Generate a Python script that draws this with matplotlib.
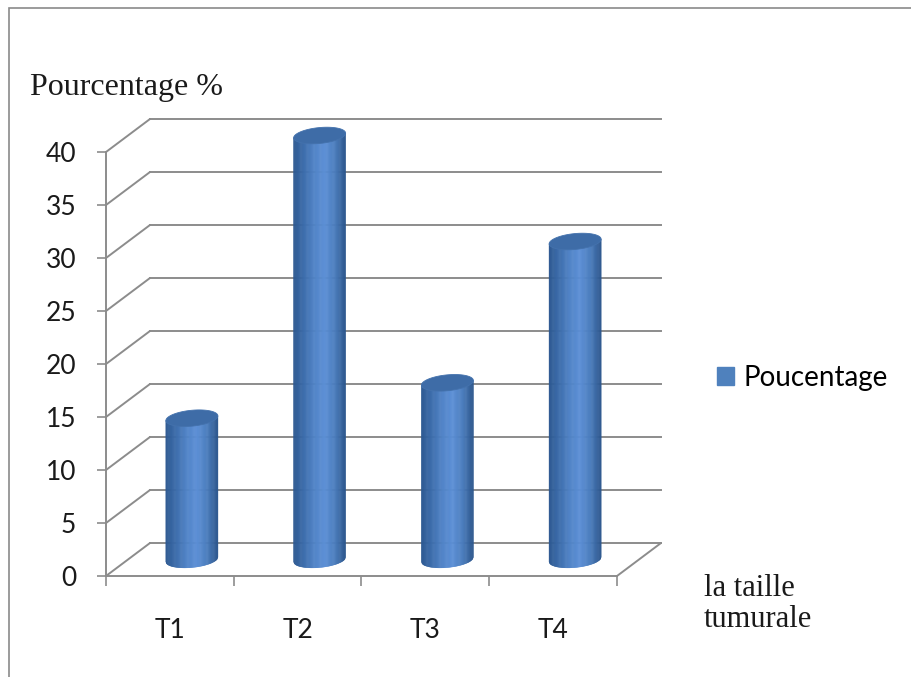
import numpy as np
import matplotlib
matplotlib.use('Agg')
import matplotlib.pyplot as plt
from matplotlib.transforms import offset_copy
from matplotlib.patches import ConnectionPatch, Polygon, Patch, Rectangle
from matplotlib.collections import PolyCollection
from matplotlib.colors import LinearSegmentedColormap

# donnees
categories = ['T1', 'T2', 'T3', 'T4']
pourcentages = [13.33, 40.0, 16.67, 30.0]
yticks = [0, 5, 10, 15, 20, 25, 30, 35, 40]
serie = 'Poucentage'

grid_c = '#8c8c8c'
sans = 'Lato'
serif = 'Liberation Serif'

fig = plt.figure(figsize=(9.12, 6.77), dpi=100)
ax = fig.add_axes([106 / 912, 101 / 677, 511 / 912, 424 / 677])
ax.set_facecolor('none')

# decalages de profondeur (pseudo 3D)
back = offset_copy(ax.transData, fig=fig, x=44, y=33, units='dots')
mid = offset_copy(ax.transData, fig=fig, x=22, y=16.5, units='dots')

n = len(categories)

# murs : lignes de grille au fond + diagonales du mur gauche
for v in yticks:
    ax.plot([0, n], [v, v], transform=back, color=grid_c, lw=1.4,
            clip_on=False, zorder=1)
    ax.add_artist(ConnectionPatch((0, v), (0, v), coordsA=ax.transData,
                                  coordsB=back, color=grid_c, lw=1.4,
                                  zorder=1))
ax.add_artist(ConnectionPatch((n, 0), (n, 0), coordsA=ax.transData,
                              coordsB=back, color=grid_c, lw=1.4, zorder=1))

# cylindres : bandes verticales en degrade
cmap = LinearSegmentedColormap.from_list(
    'cyl', ['#2b5790', '#3b6cab', '#4f82c6', '#5b8fd6', '#4a7cbd', '#2b568c'])
a = 26 / 127.75   # demi-largeur en unites de categorie
b = 0.75          # demi-hauteur de l'ellipse en unites de valeur
k = 0.22          # inclinaison de l'ellipse
t = np.linspace(0, 2 * np.pi, 100)
u = np.linspace(-1, 1, 61)

for i, v in enumerate(pourcentages):
    c = i + 0.5
    xs = c + a * u
    bot = -b * np.sqrt(1 - u ** 2) + k * u
    top_line = v + k * u
    strips, cols = [], []
    for j in range(len(u) - 1):
        strips.append([(xs[j], bot[j]), (xs[j + 1], bot[j + 1]),
                       (xs[j + 1], top_line[j + 1]), (xs[j], top_line[j])])
        cols.append(cmap((j + 0.5) / (len(u) - 1)))
    ax.add_collection(PolyCollection(strips, facecolors=cols, edgecolors=cols,
                                     linewidths=0.4, transform=mid, zorder=3,
                                     clip_on=False))
    top = np.column_stack([c + a * np.cos(t), v + b * np.sin(t) + k * np.cos(t)])
    ax.add_patch(Polygon(top, closed=True, transform=mid, facecolor='#3e6ca7',
                         edgecolor='#4472ad', lw=0.6, zorder=4, clip_on=False))

ax.set_xlim(0, n)
ax.set_ylim(0, 40)

for s in ['top', 'right']:
    ax.spines[s].set_visible(False)
for s in ['left', 'bottom']:
    ax.spines[s].set_color(grid_c)
    ax.spines[s].set_linewidth(1.4)

ax.set_yticks(yticks)
ax.tick_params(axis='y', length=6.5, width=1.2, color=grid_c, pad=15,
               labelsize=19, labelcolor='#1a1a1a')
ax.set_xticks(range(n + 1), [''] * (n + 1))
ax.set_xticks(np.arange(n) + 0.5, categories, minor=True)
ax.tick_params(axis='x', which='major', length=7, width=1.2, color=grid_c)
ax.tick_params(axis='x', which='minor', length=0, pad=30, labelsize=19,
               labelcolor='#1a1a1a')
for lab in ax.get_xticklabels(minor=True) + ax.get_yticklabels():
    lab.set_family(sans)

fig.text(30 / 912, 1 - 88 / 677, 'Pourcentage %', family=serif, fontsize=23,
         va='center', ha='left', color='#1a1a1a')
fig.text(704 / 912, 1 - 574 / 677, 'la taille\ntumurale', family=serif,
         fontsize=22, va='top', ha='left', color='#1a1a1a', linespacing=1.1)

leg = fig.legend(handles=[Patch(facecolor='#4f81bd', edgecolor='#4f81bd')],
                 labels=[serie], loc='center left',
                 bbox_to_anchor=(692 / 912, 1 - 378 / 677), frameon=False,
                 prop={'family': sans, 'size': 20}, handlelength=0.62,
                 handleheight=0.62, handletextpad=0.35)

# cadre du graphique
fig.add_artist(Rectangle((9 / 912, -0.1), 1.2, 1.1 - 8 / 677,
                         transform=fig.transFigure, facecolor='none',
                         edgecolor='#8a8a8a', lw=1.2))

fig.savefig('out.png', dpi=100)
